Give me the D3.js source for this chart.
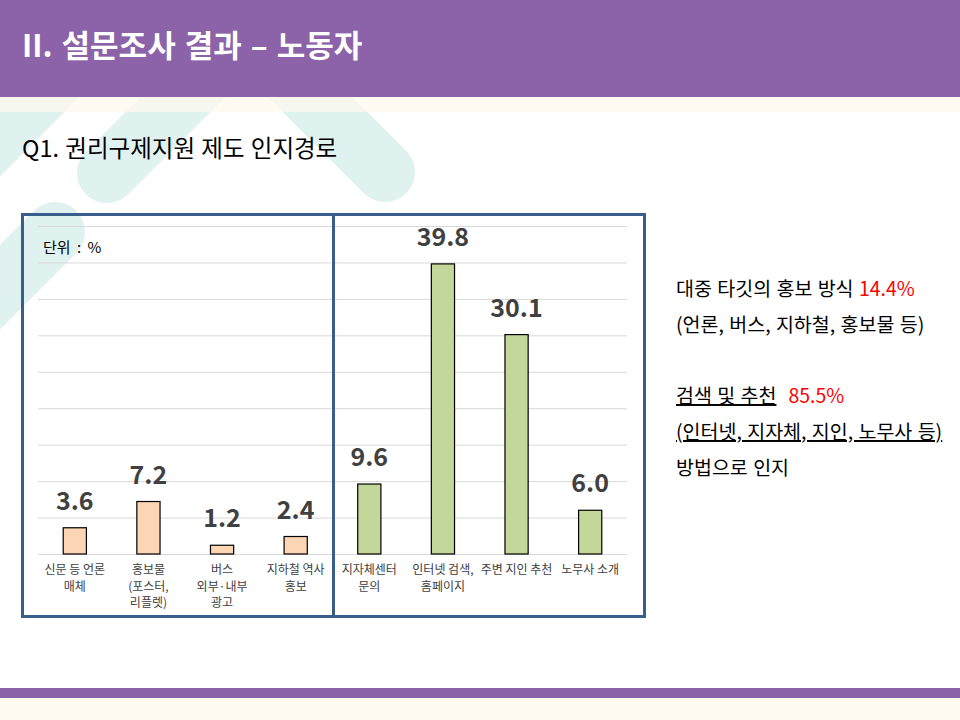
<!DOCTYPE html>
<html>
<head>
<meta charset="utf-8">
<script src="https://cdn.jsdelivr.net/npm/d3@7"></script>
<style>
  html, body { margin: 0; padding: 0; background: #fff; }
  svg { display: block; font-family: "Noto Sans CJK KR", "Noto Sans", sans-serif; }
</style>
</head>
<body>
<div id="chart"></div>
<script>
// chart data
const categories = [
  "신문 등 언론 매체", "홍보물 (포스터, 리플렛)", "버스 외부·내부 광고", "지하철 역사 홍보",
  "지자체센터 문의", "인터넷 검색, 홈페이지", "주변 지인 추천", "노무사 소개"
];
const labelLines = [
  ["신문 등 언론", "매체"],
  ["홍보물", "(포스터,", "리플렛)"],
  ["버스", "외부·내부", "광고"],
  ["지하철 역사", "홍보"],
  ["지자체센터", "문의"],
  ["인터넷 검색,", "홈페이지"],
  ["주변 지인 추천"],
  ["노무사 소개"]
];
const values = [3.6, 7.2, 1.2, 2.4, 9.6, 39.8, 30.1, 6.0];
const groups = ["mass", "mass", "mass", "mass", "search", "search", "search", "search"];
const groupColors = { mass: "#fcd5b5", search: "#c4d79b" };

const W = 960, H = 720;
const purple = "#8c63a9";
const teal = "#dff2ef";

const svg = d3.select("#chart").append("svg")
  .attr("width", W)
  .attr("height", H);

// background decoration
const deco = svg.append("g")
  .attr("stroke", teal)
  .attr("stroke-width", 60)
  .attr("stroke-linecap", "round")
  .attr("fill", "none");
deco.append("line").attr("x1", 385).attr("y1", 172).attr("x2", 160).attr("y2", -53);
deco.append("line").attr("x1", 107).attr("y1", 173).attr("x2", 330).attr("y2", -50);
deco.append("line").attr("x1", 134).attr("y1", 0).attr("x2", -100).attr("y2", 234);
deco.append("line").attr("x1", 55).attr("y1", 232).attr("x2", -120).attr("y2", 407);

// header
svg.append("rect").attr("x", 0).attr("y", 0).attr("width", W).attr("height", 97).attr("fill", purple);
svg.append("rect").attr("x", 0).attr("y", 97).attr("width", W).attr("height", 15)
  .attr("fill", "#fff9ee").attr("opacity", 0.7);
svg.append("text")
  .attr("x", 22).attr("y", 57)
  .attr("fill", "#fff")
  .attr("font-size", 31)
  .attr("font-weight", "bold")
  .attr("word-spacing", 2)
  .text("II. 설문조사 결과 – 노동자");

svg.append("text")
  .attr("x", 22).attr("y", 157)
  .attr("fill", "#000")
  .attr("font-size", 23.5)
  .attr("font-weight", "normal")
  .attr("word-spacing", 1)
  .text("Q1. 권리구제지원 제도 인지경로");

// footer
svg.append("rect").attr("x", 0).attr("y", 688).attr("width", W).attr("height", 10).attr("fill", purple);
svg.append("rect").attr("x", 0).attr("y", 698).attr("width", W).attr("height", 22).attr("fill", "#fffaf2");

// scales
const x = d3.scaleBand()
  .domain(categories)
  .range([38, 627]);
const y = d3.scaleLinear()
  .domain([0, 45])
  .range([554, 226]);
const barW = x.bandwidth() * 0.315;

// gridlines
svg.append("g")
  .attr("transform", "translate(38,0)")
  .call(d3.axisLeft(y).ticks(9).tickSize(-(627 - 38)).tickFormat(""))
  .call(g => g.select(".domain").remove())
  .call(g => g.selectAll(".tick line").attr("stroke", "#d9d9d9").attr("stroke-width", 1));

svg.append("text")
  .attr("x", 43).attr("y", 253)
  .attr("font-size", 15)
  .attr("word-spacing", 3)
  .attr("fill", "#000")
  .text("단위 : %");

// bars
const data = categories.map((c, i) => ({ cat: c, value: values[i], group: groups[i], lines: labelLines[i] }));

svg.append("g")
  .selectAll("rect")
  .data(data)
  .join("rect")
  .attr("x", d => x(d.cat) + x.bandwidth() / 2 - barW / 2)
  .attr("y", d => y(d.value))
  .attr("width", barW)
  .attr("height", d => y(0) - y(d.value))
  .attr("fill", d => groupColors[d.group])
  .attr("stroke", "#000")
  .attr("stroke-width", 1.2);

// value labels
svg.append("g")
  .selectAll("text")
  .data(data)
  .join("text")
  .attr("x", d => x(d.cat) + x.bandwidth() / 2)
  .attr("y", d => y(d.value) - 18)
  .attr("text-anchor", "middle")
  .attr("font-size", 25)
  .attr("font-weight", "bold")
  .attr("fill", "#404040")
  .text(d => d.value.toFixed(1));

// category labels
const xl = svg.append("g")
  .selectAll("text")
  .data(data)
  .join("text")
  .attr("x", d => x(d.cat) + x.bandwidth() / 2)
  .attr("y", 574)
  .attr("text-anchor", "middle")
  .attr("font-size", 12)
  .attr("fill", "#404040");
xl.selectAll("tspan")
  .data(d => d.lines)
  .join("tspan")
  .attr("x", function () { return d3.select(this.parentNode).attr("x"); })
  .attr("dy", (d, i) => i === 0 ? 0 : 16.5)
  .text(d => d);

// frames
const frame = svg.append("g").attr("fill", "none").attr("stroke", "#3a5e8c").attr("stroke-width", 3);
frame.append("rect").attr("x", 22.5).attr("y", 214.5).attr("width", 311).attr("height", 402);
frame.append("rect").attr("x", 333.5).attr("y", 214.5).attr("width", 311).attr("height", 402);

// side notes
const notes = svg.append("g").attr("font-size", 19.5).attr("fill", "#000").attr("word-spacing", 1);
const t1 = notes.append("text").attr("x", 676).attr("y", 296);
t1.append("tspan").text("대중 타깃의 홍보 방식 ");
t1.append("tspan").attr("fill", "#ff0000").text("14.4%");
notes.append("text").attr("x", 676).attr("y", 332).text("(언론, 버스, 지하철, 홍보물 등)");
const t2 = notes.append("text").attr("x", 676).attr("y", 403);
t2.append("tspan").attr("text-decoration", "underline").text("검색 및 추천");
t2.append("tspan").attr("fill", "#ff0000").attr("dx", 12).text("85.5%");
notes.append("text").attr("x", 676).attr("y", 439).attr("text-decoration", "underline")
  .text("(인터넷, 지자체, 지인, 노무사 등)");
notes.append("text").attr("x", 676).attr("y", 475).text("방법으로 인지");
</script>
</body>
</html>
